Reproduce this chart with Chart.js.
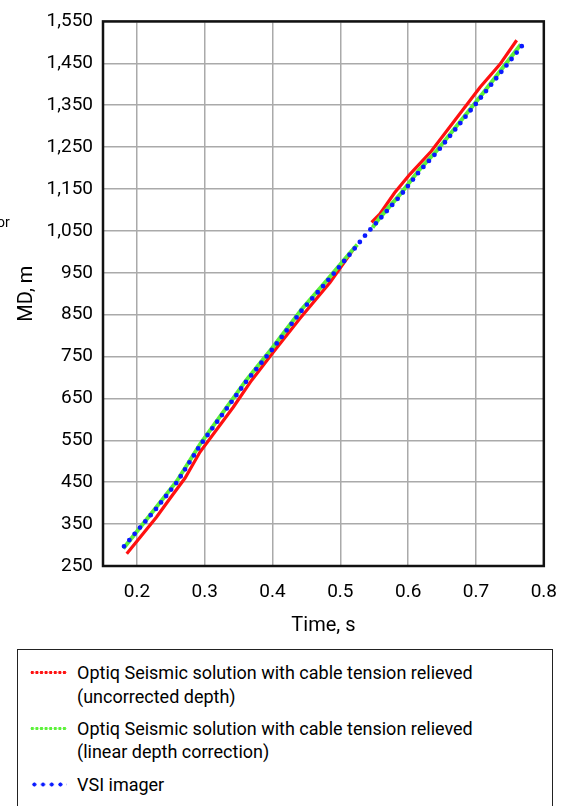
<!DOCTYPE html>
<html>
<head>
<meta charset="utf-8">
<script src="https://cdn.jsdelivr.net/npm/chart.js@4.4.1/dist/chart.umd.min.js"></script>
<style>
    body {
        margin: 0;
        width: 572px;
        height: 806px;
        background: #fff;
        position: relative;
        overflow: hidden;
        font-family: Roboto, 'DejaVu Sans Condensed', sans-serif;
        color: #000;
    }
    #wrap { position: absolute; left: 0; top: 0; width: 572px; height: 640px; }
    #cut { position: absolute; left: -3px; top: 214px; font-size: 14px; }
    #legend {
        position: absolute; left: 17px; top: 649px; width: 536px; height: 170px;
        border: 1.5px solid #222; box-sizing: border-box;
    }
    .txt { position: absolute; left: 77px; font-size: 18px; line-height: 24px; white-space: nowrap; }
    .sw { position: absolute; left: 30px; width: 37px; height: 5px; background-repeat: repeat-x; }
    .sw.red { background-image: radial-gradient(circle, #ff1010 0 1.5px, transparent 2px); background-size: 4.6px 5px; }
    .sw.green { background-image: radial-gradient(circle, #5cf23a 0 1.5px, transparent 2px); background-size: 4.6px 5px; }
    .sw.blue { background-image: radial-gradient(circle, #0a1aff 0 1.8px, transparent 2.3px); background-size: 8.7px 5px; }
</style>
</head>
<body>
<div id="wrap"><canvas id="grafico" width="572" height="640"></canvas></div>
<span id="cut">or</span>

<div id="legend"></div>
<div class="sw red" style="top:670px"></div>
<div class="txt" style="top:661px">Optiq Seismic solution with cable tension relieved</div>
<div class="txt" style="top:685px">(uncorrected depth)</div>
<div class="sw green" style="top:726px"></div>
<div class="txt" style="top:717px">Optiq Seismic solution with cable tension relieved</div>
<div class="txt" style="top:740px">(linear depth correction)</div>
<div class="sw blue" style="top:782px"></div>
<div class="txt" style="top:773px">VSI imager</div>

<script>
// datos (tiempo en s, profundidad MD en m)
const redTime = [0.185, 0.2045, 0.229, 0.2487, 0.271, 0.293, 0.342, 0.369, 0.401, 0.440, 0.485, 0.521,
    null, 0.546, 0.558, 0.580, 0.6025, 0.634, 0.706, 0.735, 0.760];
const redDepth = [279, 318, 367, 411, 460, 522, 629, 693, 760, 840, 927, 1010,
    null, 1070, 1090, 1141, 1185, 1240, 1393, 1447, 1505];

const greenTime = [0.180, 0.228, 0.259, 0.294, 0.361, 0.399, 0.443, 0.476, 0.515, 0.525,
    null, 0.5475, 0.558, 0.588, 0.617, 0.643, 0.710, 0.766];
const greenDepth = [292, 389, 453, 543, 693, 769, 863, 924, 999, 1017,
    null, 1058, 1081, 1137, 1197, 1243, 1378, 1495];

const blueTime = [0.181, 0.228, 0.259, 0.294, 0.361, 0.399, 0.443, 0.476, 0.515, 0.538, 0.558,
    0.588, 0.617, 0.643, 0.710, 0.771];
const blueDepth = [297, 386, 450, 540, 690, 766, 860, 921, 996, 1042, 1078,
    1133, 1193, 1239, 1374, 1498];

const xTicks = [0.2, 0.3, 0.4, 0.5, 0.6, 0.7, 0.8];
const yTicks = [250, 350, 450, 550, 650, 750, 850, 950, 1050, 1150, 1250, 1350, 1450, 1550];

const FONT = "Roboto, 'DejaVu Sans Condensed', sans-serif";
Chart.defaults.font.family = FONT;
Chart.defaults.color = '#000';

function toPoints(times, depths) {
    return times.map((t, i) => ({ x: t, y: depths[i] }));
}

// marco negro alrededor del area del grafico
const marco = {
    id: 'marco',
    afterDraw(chart) {
        const { ctx, chartArea: a } = chart;
        ctx.save();
        ctx.strokeStyle = '#111';
        ctx.lineWidth = 2.5;
        ctx.strokeRect(a.left, a.top, a.right - a.left, a.bottom - a.top);
        ctx.restore();
    }
};

document.addEventListener("DOMContentLoaded", function () {
    const grafico = document.getElementById('grafico');
    if (!grafico) return;

    new Chart(grafico, {
        type: 'line',
        data: {
            datasets: [{
                label: 'Optiq Seismic solution with cable tension relieved (uncorrected depth)',
                data: toPoints(redTime, redDepth),
                borderColor: '#ff1010',
                borderWidth: 3.2,
                order: 3
            }, {
                label: 'Optiq Seismic solution with cable tension relieved (linear depth correction)',
                data: toPoints(greenTime, greenDepth),
                borderColor: '#5cf23a',
                borderWidth: 4,
                order: 2
            }, {
                label: 'VSI imager',
                data: toPoints(blueTime, blueDepth),
                borderColor: '#0a1aff',
                borderWidth: 4.8,
                borderDash: [0, 8.2],
                borderCapStyle: 'round',
                order: 1
            }]
        },
        options: {
            responsive: false,
            animation: false,
            spanGaps: false,
            elements: { point: { radius: 0 }, line: { tension: 0 } },
            layout: { padding: { top: 20, right: 28, bottom: 0, left: 0 } },
            plugins: { legend: { display: false }, tooltip: { enabled: false } },
            scales: {
                x: {
                    type: 'linear',
                    min: 0.15,
                    max: 0.8,
                    afterBuildTicks: (scale) => { scale.ticks = xTicks.map(v => ({ value: v })); },
                    afterFit: (scale) => { scale.height = 74; },
                    border: { display: false },
                    grid: { color: '#aaaaaa', lineWidth: 1.5, drawTicks: false },
                    ticks: {
                        padding: 15,
                        autoSkip: false,
                        maxRotation: 0,
                        font: { size: 19 },
                        callback: (v) => Number(v).toFixed(1)
                    },
                    title: { display: true, text: 'Time, s', font: { size: 20 }, padding: { top: 0, bottom: 2 } }
                },
                y: {
                    type: 'linear',
                    min: 250,
                    max: 1550,
                    afterBuildTicks: (scale) => { scale.ticks = yTicks.map(v => ({ value: v })); },
                    afterFit: (scale) => { scale.width = 103; },
                    border: { display: false },
                    grid: { color: '#aaaaaa', lineWidth: 1.5, drawTicks: false },
                    ticks: {
                        padding: 10,
                        autoSkip: false,
                        font: { size: 19 },
                        callback: (v) => Number(v).toLocaleString('en-US')
                    },
                    title: { display: true, text: 'MD, m', font: { size: 20 }, padding: { top: 15, bottom: 0 } }
                }
            }
        },
        plugins: [marco]
    });
});
</script>
</body>
</html>
